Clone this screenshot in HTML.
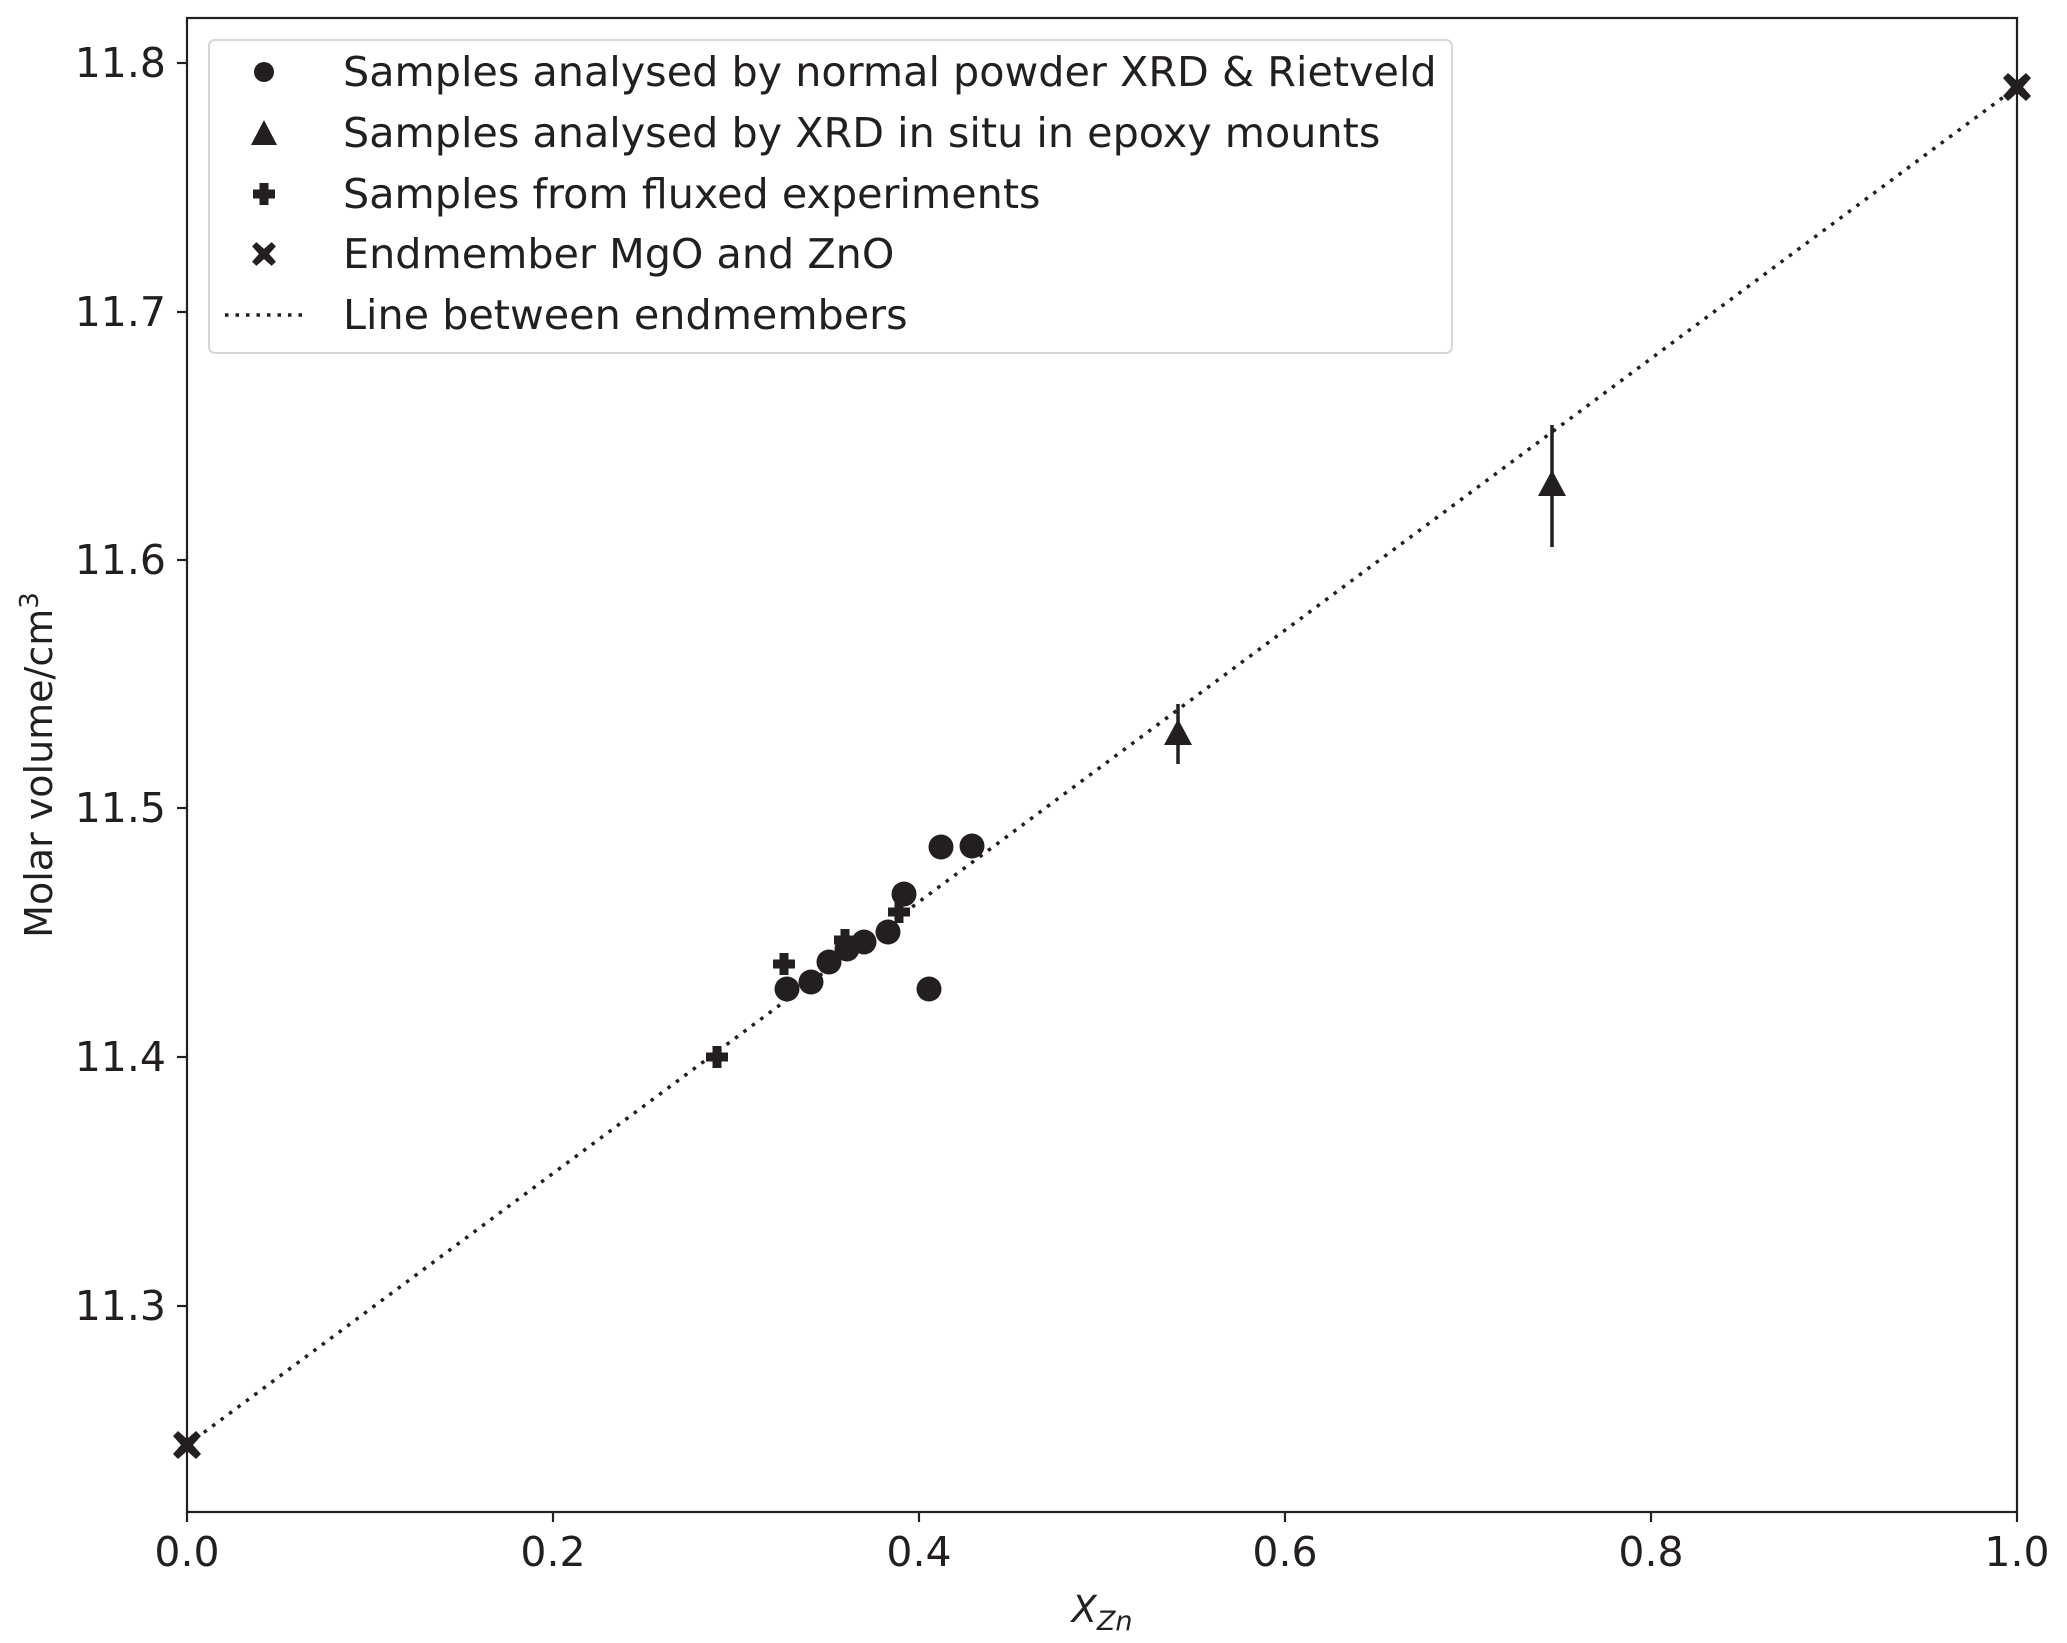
<!DOCTYPE html>
<html><head><meta charset="utf-8"><style>body{margin:0;background:#fff}svg{display:block}</style></head><body>
<svg width="2067" height="1643" viewBox="0 0 2067 1643" xmlns="http://www.w3.org/2000/svg" font-family="DejaVu Sans, Liberation Sans, sans-serif" fill="#231f20">
<defs>
<g id="c"><circle r="12.5"/></g>
<path id="p" d="M-4.5,-11 H4.5 V-4.5 H11 V4.5 H4.5 V11 H-4.5 V4.5 H-11 V-4.5 H-4.5 Z"/>
<path id="x" d="M-9,-14 L0,-6 L9,-14 L14,-9 L6,0 L14,9 L9,14 L0,6 L-9,14 L-14,9 L-6,0 L-14,-9 Z"/>
<path id="t" d="M0,-15 L14,11 L-14,11 Z"/>
</defs>
<line x1="187" y1="1445" x2="2017" y2="87" stroke="#231f20" stroke-width="3.5" stroke-dasharray="3.5,7" />
<line x1="1178" y1="764" x2="1178" y2="704" stroke="#231f20" stroke-width="3.5"/>
<line x1="1552" y1="547" x2="1552" y2="425" stroke="#231f20" stroke-width="3.5"/>
<use href="#t" x="1178" y="734"/>
<use href="#t" x="1552" y="485"/>
<use href="#p" x="717" y="1057"/>
<use href="#p" x="784" y="964"/>
<use href="#p" x="845" y="940"/>
<use href="#p" x="899" y="912"/>
<use href="#c" x="787" y="989"/>
<use href="#c" x="811" y="982"/>
<use href="#c" x="829" y="962"/>
<use href="#c" x="847" y="949"/>
<use href="#c" x="864" y="942"/>
<use href="#c" x="888" y="932"/>
<use href="#c" x="904" y="894"/>
<use href="#c" x="929" y="989"/>
<use href="#c" x="941" y="847"/>
<use href="#c" x="972" y="846"/>
<use href="#x" x="187" y="1445"/>
<use href="#x" x="2017" y="87"/>
<rect x="187" y="18" width="1830" height="1494" fill="none" stroke="#231f20" stroke-width="2.2"/>
<g stroke="#231f20" stroke-width="2.2">
<line x1="187" y1="1512" x2="187" y2="1522"/><line x1="553" y1="1512" x2="553" y2="1522"/><line x1="919" y1="1512" x2="919" y2="1522"/><line x1="1285" y1="1512" x2="1285" y2="1522"/><line x1="1651" y1="1512" x2="1651" y2="1522"/><line x1="2017" y1="1512" x2="2017" y2="1522"/>
<line x1="177" y1="1306" x2="187" y2="1306"/><line x1="177" y1="1057" x2="187" y2="1057"/><line x1="177" y1="808" x2="187" y2="808"/><line x1="177" y1="560" x2="187" y2="560"/><line x1="177" y1="312" x2="187" y2="312"/><line x1="177" y1="63" x2="187" y2="63"/>
</g>
<g font-size="41" text-anchor="middle">
<text x="187" y="1566">0.0</text><text x="553" y="1566">0.2</text><text x="919" y="1566">0.4</text><text x="1285" y="1566">0.6</text><text x="1651" y="1566">0.8</text><text x="2017" y="1566">1.0</text>
</g>
<g font-size="41" text-anchor="end">
<text x="166" y="1320">11.3</text><text x="166" y="1071">11.4</text><text x="166" y="822">11.5</text><text x="166" y="574">11.6</text><text x="166" y="326">11.7</text><text x="166" y="77">11.8</text>
</g>
<text x="1102" y="1622" font-size="37" text-anchor="middle" font-style="italic">X<tspan font-size="27" dy="8">Zn</tspan></text>
<text transform="translate(52,765) rotate(-90)" font-size="38" text-anchor="middle">Molar volume/cm<tspan font-size="26" dy="-14">3</tspan></text>
<rect x="209" y="40" width="1243" height="313" rx="6" fill="#fff" fill-opacity="0.9" stroke="#d6d6d6" stroke-width="2"/>
<circle cx="264" cy="72" r="10"/>
<path d="M264,120 L277,145 L251,145 Z"/>
<use href="#p" x="264" y="194"/>
<use href="#x" x="264" y="254" transform="translate(264,254) scale(0.85) translate(-264,-254)"/>
<line x1="225" y1="315" x2="306" y2="315" stroke="#231f20" stroke-width="3.5" stroke-dasharray="3.5,7"/>
<g font-size="41.3">
<text x="343" y="86">Samples analysed by normal powder XRD &amp; Rietveld</text>
<text x="343" y="147">Samples analysed by XRD in situ in epoxy mounts</text>
<text x="343" y="208">Samples from fluxed experiments</text>
<text x="343" y="268">Endmember MgO and ZnO</text>
<text x="343" y="329">Line between endmembers</text>
</g>
</svg>
</body></html>
